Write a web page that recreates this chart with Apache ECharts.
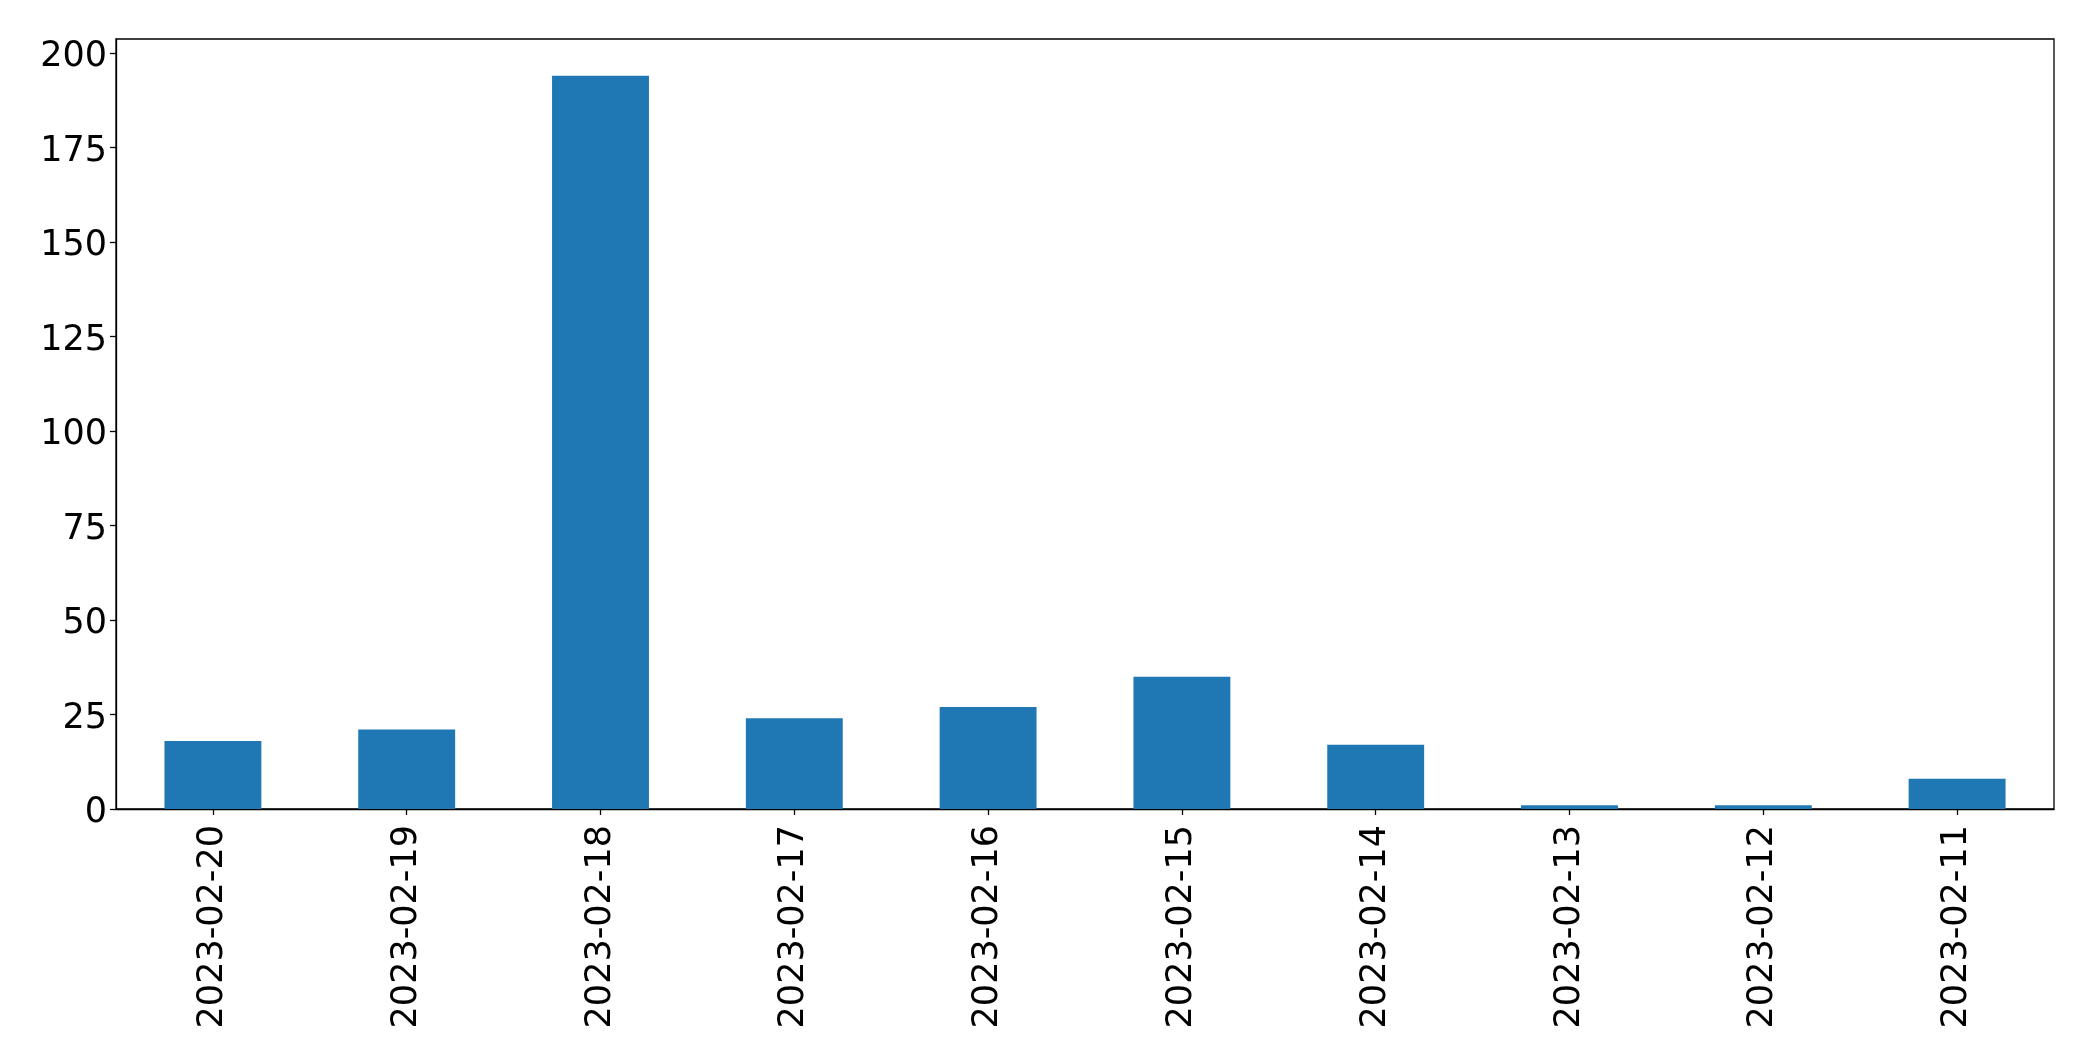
<!DOCTYPE html>
<html>
<head>
<meta charset="utf-8">
<script src="https://cdn.jsdelivr.net/npm/echarts@6/dist/echarts.min.js"></script>
<style>
html,body{margin:0;padding:0;background:#fff;}
#chart{width:2093px;height:1061px;}
</style>
</head>
<body>
<div id="chart"></div>
<script>
const categories = ["2023-02-20","2023-02-19","2023-02-18","2023-02-17","2023-02-16","2023-02-15","2023-02-14","2023-02-13","2023-02-12","2023-02-11"];
const values = [18, 21, 194, 24, 27, 35, 17, 1, 1, 8];
const yTicks = [0, 25, 50, 75, 100, 125, 150, 175, 200];
const yMax = 203.7;

const chart = echarts.init(document.getElementById('chart'), null, {renderer: 'canvas'});
const font = 'DejaVu Sans';
chart.setOption({
  animation: false,
  backgroundColor: '#ffffff',
  grid: {
    left: 116, right: 39, top: 39, bottom: 252,
    show: true, borderColor: '#000', borderWidth: 1.3, backgroundColor: 'transparent'
  },
  xAxis: {
    type: 'category',
    data: categories,
    boundaryGap: true,
    axisLine: {show: true, lineStyle: {color: '#000', width: 1.3}},
    axisTick: {show: true, alignWithLabel: true, length: 6, lineStyle: {color: '#000', width: 1.3}},
    axisLabel: {rotate: 90, fontFamily: font, fontSize: 35, color: '#000', margin: 16, interval: 0}
  },
  yAxis: {
    type: 'value',
    min: 0, max: yMax, interval: 25,
    splitLine: {show: false},
    axisLine: {show: true, lineStyle: {color: '#000', width: 1.3}},
    axisTick: {show: true, length: 6, lineStyle: {color: '#000', width: 1.3}, customValues: yTicks},
    axisLabel: {
      fontFamily: font, fontSize: 35, color: '#000', margin: 9, customValues: yTicks,
      formatter: function (v) { return '{a|' + v + '}'; },
      rich: {a: {fontFamily: font, fontSize: 35, color: '#000', padding: [8, 0, 0, 0]}}
    }
  },
  series: [{
    type: 'bar',
    data: values,
    barWidth: '50%',
    itemStyle: {color: '#1f77b4'}
  }]
});
</script>
</body>
</html>
